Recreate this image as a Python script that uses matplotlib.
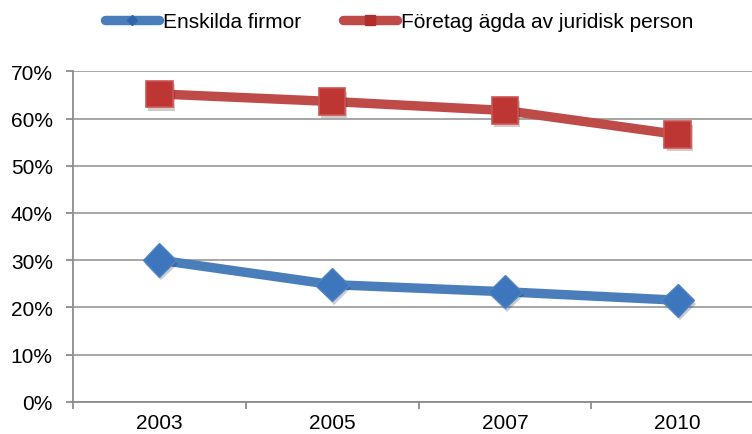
import matplotlib
matplotlib.use("Agg")
import matplotlib.pyplot as plt
import matplotlib.patheffects as pe
from matplotlib.ticker import PercentFormatter, FixedLocator
from matplotlib.lines import Line2D

plt.rcParams['font.family'] = ['Liberation Sans', 'DejaVu Sans']

years = ["2003", "2005", "2007", "2010"]
enskilda = [0.300, 0.248, 0.233, 0.215]
foretag = [0.652, 0.636, 0.617, 0.566]
series_names = ["Enskilda firmor", "Företag ägda av juridisk person"]

BLUE_LINE = '#4A7EBB'
BLUE_MARK = '#3D76BD'
RED_LINE = '#BE4B48'
RED_MARK = '#BD3633'

fig = plt.figure(figsize=(7.52, 4.35), dpi=100)
ax = fig.add_axes([73/752, 32.3/435, 691/752, 330.4/435])

x = list(range(len(years)))
shadow = [pe.SimplePatchShadow(offset=(1.5, -2.5), alpha=0.22), pe.Normal()]

ax.plot(x, enskilda, color=BLUE_LINE, lw=6.8, solid_capstyle='butt', zorder=3)
ax.plot(x, foretag, color=RED_LINE, lw=6.8, solid_capstyle='butt', zorder=3)
ax.plot(x, enskilda, ls='none', marker='D', markersize=17,
        markerfacecolor=BLUE_MARK, markeredgecolor='#4F84C4', markeredgewidth=1,
        zorder=4, path_effects=shadow)
ax.plot(x, foretag, ls='none', marker='s', markersize=19,
        markerfacecolor=RED_MARK, markeredgecolor='#CC5552', markeredgewidth=1.2,
        zorder=4, path_effects=shadow)

ax.set_xlim(-0.5, len(years) - 0.5)
ax.set_ylim(0, 0.7)
ax.set_yticks([i / 10 for i in range(8)])
ax.yaxis.set_major_formatter(PercentFormatter(1.0, decimals=0))
ax.set_xticks(x)
ax.set_xticklabels(years)
ax.xaxis.set_minor_locator(FixedLocator([i - 0.5 for i in range(len(years) + 1)]))
ax.tick_params(axis='x', which='major', length=0, pad=8, labelsize=15)
ax.tick_params(axis='x', which='minor', length=5, width=1.3, color='#8C8C8C')
ax.tick_params(axis='y', length=5, width=1.3, color='#8C8C8C', labelsize=15, pad=9.5)

ax.grid(axis='y', color='#A6A6A6', lw=1.4)
ax.set_axisbelow(True)
for s in ['top', 'right']:
    ax.spines[s].set_visible(False)
for s in ['left', 'bottom']:
    ax.spines[s].set_color('#8C8C8C')
    ax.spines[s].set_linewidth(1.3)

h1 = Line2D([], [], color=BLUE_LINE, lw=6.8, marker='D', markersize=5.5,
            markerfacecolor='#2F66AA', markeredgecolor='#2F66AA', solid_capstyle='round')
h2 = Line2D([], [], color=RED_LINE, lw=6.8, marker='s', markersize=7.5,
            markerfacecolor='#B02E2B', markeredgecolor='#B02E2B', solid_capstyle='round')
fig.legend([h1, h2], series_names, loc='center', bbox_to_anchor=(399/752, 1 - 23/435),
           ncol=2, frameon=False, fontsize=15, handlelength=2.6, handletextpad=0.2,
           columnspacing=2.0, borderpad=0)

fig.savefig("out.png", dpi=100)
